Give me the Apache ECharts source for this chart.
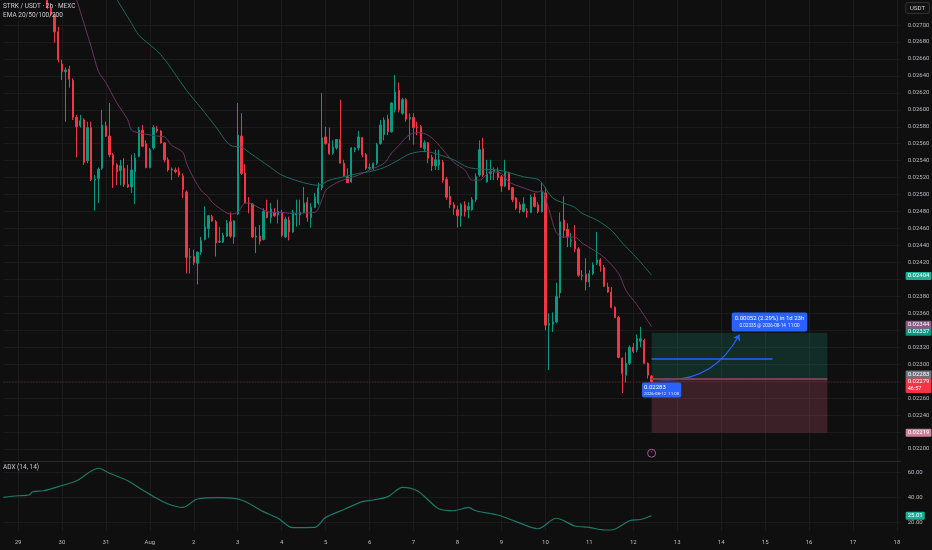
<!DOCTYPE html>
<html>
<head>
<meta charset="utf-8">
<script src="https://cdn.jsdelivr.net/npm/echarts@6/dist/echarts.min.js"></script>
<style>
html, body { margin: 0; padding: 0; background: #0f0f0f; }
#chart { width: 932px; height: 550px; }
</style>
</head>
<body>
<div id="chart"></div>
<script>
// day labels on the time axis, one every 12 candles (2h)
var dayTicks = ['29', '30', '31', 'Aug', '2', '3', '4', '5', '6', '7', '8', '9', '10', '11', '12', '13', '14', '15', '16', '17', '18'];
var slotCount = 246;
var firstCandle = 12;

// price grid lines / labels
var priceGrid = [0.0220, 0.0222, 0.0224, 0.0226, 0.0228, 0.0230, 0.0232, 0.0234, 0.0236, 0.0238, 0.0240, 0.0242, 0.0244,
    0.0246, 0.0248, 0.0250, 0.0252, 0.0254, 0.0256, 0.0258, 0.0260, 0.0262, 0.0264, 0.0266, 0.0268, 0.0270];
var priceLabels = [0.0220, 0.0224, 0.0226, 0.0230, 0.0232, 0.0236, 0.0238, 0.0242, 0.0244,
    0.0246, 0.0248, 0.0250, 0.0252, 0.0254, 0.0256, 0.0258, 0.0260, 0.0262, 0.0264, 0.0266, 0.0268, 0.0270];
var adxTicks = [20, 40, 60];

// candles: open, close, low, high
var candles = [
    [0.02733,0.02721,0.02719,0.02739],[0.02721,0.02712,0.02711,0.02724],[0.02712,0.02692,0.02679,0.02713],
    [0.02692,0.02659,0.02656,0.02698],[0.02654,0.02645,0.02635,0.02659],[0.02645,0.02647,0.02586,0.02650],
    [0.02648,0.02636,0.02626,0.02652],[0.02635,0.02591,0.02588,0.02637],[0.02591,0.02580,0.02544,0.02594],
    [0.02581,0.02587,0.02579,0.02594],[0.02588,0.02538,0.02535,0.02590],[0.02540,0.02579,0.02537,0.02586],
    [0.02579,0.02518,0.02516,0.02586],[0.02517,0.02518,0.02481,0.02523],[0.02519,0.02530,0.02490,0.02532],
    [0.02531,0.02582,0.02529,0.02600],[0.02581,0.02569,0.02568,0.02586],[0.02569,0.02547,0.02544,0.02608],
    [0.02547,0.02535,0.02508,0.02549],[0.02535,0.02527,0.02511,0.02537],[0.02528,0.02534,0.02511,0.02541],
    [0.02531,0.02512,0.02509,0.02543],[0.02512,0.02509,0.02508,0.02535],[0.02509,0.02529,0.02502,0.02547],
    [0.02527,0.02543,0.02489,0.02549],[0.02545,0.02576,0.02544,0.02580],[0.02576,0.02557,0.02556,0.02582],
    [0.02560,0.02532,0.02531,0.02564],[0.02532,0.02553,0.02531,0.02555],[0.02555,0.02579,0.02553,0.02582],
    [0.02577,0.02575,0.02573,0.02581],[0.02575,0.02561,0.02560,0.02576],[0.02561,0.02541,0.02538,0.02562],
    [0.02541,0.02529,0.02527,0.02544],[0.02529,0.02530,0.02517,0.02532],[0.02529,0.02527,0.02525,0.02532],
    [0.02527,0.02523,0.02521,0.02532],[0.02522,0.02506,0.02496,0.02525],[0.02503,0.02426,0.02407,0.02505],
    [0.02426,0.02427,0.02407,0.02437],[0.02427,0.02420,0.02417,0.02435],[0.02419,0.02432,0.02394,0.02433],
    [0.02432,0.02446,0.02429,0.02450],[0.02447,0.02462,0.02446,0.02486],[0.02460,0.02475,0.02449,0.02476],
    [0.02474,0.02469,0.02468,0.02476],[0.02468,0.02443,0.02427,0.02470],[0.02444,0.02445,0.02443,0.02462],
    [0.02444,0.02452,0.02443,0.02455],[0.02451,0.02466,0.02450,0.02470],[0.02468,0.02451,0.02449,0.02479],
    [0.02450,0.02469,0.02442,0.02470],[0.02477,0.02570,0.02476,0.02608],[0.02569,0.02525,0.02523,0.02596],
    [0.02525,0.02490,0.02490,0.02536],[0.02490,0.02489,0.02478,0.02497],[0.02489,0.02450,0.02449,0.02490],
    [0.02450,0.02451,0.02431,0.02462],[0.02451,0.02445,0.02441,0.02464],[0.02447,0.02480,0.02446,0.02484],
    [0.02480,0.02473,0.02472,0.02494],[0.02473,0.02483,0.02466,0.02490],[0.02479,0.02475,0.02474,0.02484],
    [0.02476,0.02480,0.02466,0.02494],[0.02479,0.02452,0.02450,0.02482],[0.02450,0.02471,0.02449,0.02474],
    [0.02470,0.02456,0.02446,0.02474],[0.02456,0.02479,0.02455,0.02482],[0.02476,0.02478,0.02462,0.02494],
    [0.02476,0.02479,0.02464,0.02494],[0.02479,0.02490,0.02478,0.02509],[0.02491,0.02473,0.02468,0.02497],
    [0.02473,0.02485,0.02461,0.02490],[0.02485,0.02497,0.02484,0.02502],[0.02490,0.02508,0.02488,0.02514],
    [0.02508,0.02567,0.02505,0.02620],[0.02568,0.02560,0.02559,0.02580],[0.02560,0.02548,0.02547,0.02579],
    [0.02549,0.02556,0.02547,0.02564],[0.02555,0.02565,0.02553,0.02565],[0.02565,0.02537,0.02537,0.02612],
    [0.02537,0.02522,0.02521,0.02541],[0.02521,0.02514,0.02514,0.02531],[0.02515,0.02555,0.02514,0.02556],
    [0.02553,0.02555,0.02550,0.02556],[0.02555,0.02568,0.02552,0.02575],[0.02567,0.02547,0.02544,0.02568],
    [0.02547,0.02531,0.02529,0.02549],[0.02531,0.02532,0.02529,0.02537],[0.02531,0.02537,0.02529,0.02538],
    [0.02537,0.02559,0.02535,0.02561],[0.02560,0.02582,0.02559,0.02588],[0.02571,0.02588,0.02564,0.02591],
    [0.02589,0.02574,0.02570,0.02594],[0.02574,0.02608,0.02573,0.02609],[0.02600,0.02621,0.02597,0.02641],
    [0.02623,0.02600,0.02597,0.02632],[0.02596,0.02612,0.02594,0.02614],[0.02612,0.02589,0.02586,0.02614],
    [0.02589,0.02591,0.02564,0.02596],[0.02591,0.02579,0.02559,0.02596],[0.02580,0.02579,0.02570,0.02586],
    [0.02580,0.02556,0.02555,0.02582],[0.02554,0.02561,0.02550,0.02564],[0.02561,0.02543,0.02537,0.02562],
    [0.02544,0.02534,0.02528,0.02547],[0.02534,0.02541,0.02529,0.02553],[0.02535,0.02541,0.02529,0.02553],
    [0.02538,0.02517,0.02514,0.02541],[0.02518,0.02497,0.02494,0.02521],[0.02498,0.02488,0.02484,0.02510],
    [0.02488,0.02484,0.02476,0.02491],[0.02482,0.02475,0.02461,0.02487],[0.02475,0.02488,0.02462,0.02490],
    [0.02488,0.02480,0.02474,0.02492],[0.02482,0.02486,0.02472,0.02491],[0.02482,0.02494,0.02481,0.02497],
    [0.02494,0.02521,0.02491,0.02525],[0.02523,0.02553,0.02521,0.02564],[0.02554,0.02523,0.02521,0.02567],
    [0.02515,0.02524,0.02514,0.02541],[0.02525,0.02527,0.02517,0.02541],[0.02527,0.02529,0.02517,0.02532],
    [0.02527,0.02520,0.02517,0.02532],[0.02521,0.02510,0.02503,0.02523],[0.02510,0.02527,0.02509,0.02541],
    [0.02525,0.02506,0.02505,0.02527],[0.02508,0.02494,0.02491,0.02509],[0.02496,0.02484,0.02482,0.02497],
    [0.02488,0.02482,0.02478,0.02491],[0.02480,0.02489,0.02479,0.02497],[0.02480,0.02479,0.02473,0.02484],
    [0.02479,0.02497,0.02478,0.02500],[0.02497,0.02486,0.02485,0.02502],[0.02488,0.02480,0.02478,0.02491],
    [0.02480,0.02503,0.02479,0.02514],[0.02502,0.02346,0.02340,0.02509],[0.02346,0.02348,0.02293,0.02360],
    [0.02347,0.02350,0.02338,0.02361],[0.02350,0.02380,0.02348,0.02396],[0.02384,0.02468,0.02378,0.02479],
    [0.02470,0.02458,0.02449,0.02498],[0.02459,0.02450,0.02438,0.02466],[0.02445,0.02446,0.02438,0.02455],
    [0.02445,0.02436,0.02432,0.02464],[0.02436,0.02405,0.02403,0.02438],[0.02404,0.02405,0.02399,0.02411],
    [0.02406,0.02397,0.02387,0.02425],[0.02397,0.02407,0.02391,0.02411],[0.02407,0.02417,0.02405,0.02420],
    [0.02419,0.02423,0.02417,0.02456],[0.02423,0.02416,0.02409,0.02425],[0.02414,0.02392,0.02391,0.02417],
    [0.02391,0.02385,0.02384,0.02396],[0.02385,0.02367,0.02366,0.02391],[0.02367,0.02355,0.02354,0.02368],
    [0.02355,0.02308,0.02307,0.02357],[0.02307,0.02289,0.02266,0.02308],[0.02287,0.02301,0.02278,0.02314],
    [0.02301,0.02320,0.02299,0.02322],[0.02320,0.02315,0.02313,0.02325],[0.02317,0.02330,0.02314,0.02335],
    [0.02327,0.02330,0.02320,0.02344],[0.02328,0.02301,0.02300,0.02330],[0.02301,0.02287,0.02283,0.02302],
    [0.02286,0.02279,0.02263,0.02287]
];

// EMA 20 (purple) and EMA 50 (teal), read at candle index positions
var ema20Idx = [20, 22, 24, 26, 28, 31, 34, 35, 37, 42, 44, 46, 49, 50, 52, 54, 56, 57, 59, 62, 64, 66, 67, 70, 73, 76, 78, 85, 87, 88,
    91, 94, 97, 100, 104, 106, 108, 111, 114, 117, 120, 123, 126, 128, 130, 133, 136, 138, 142, 146, 147, 149, 151, 153, 156, 158,
    161, 164, 168, 170, 173, 177];
var ema20Val = [0.02730, 0.02702, 0.02674, 0.02645, 0.02632, 0.02608, 0.02588, 0.02576, 0.02573, 0.02569, 0.02568, 0.02558,
    0.02550, 0.02537, 0.02519, 0.02505, 0.02497, 0.02491, 0.02484, 0.02477, 0.02479, 0.02490, 0.02490, 0.02484, 0.02479,
    0.02479, 0.02478, 0.02479, 0.02494, 0.02505, 0.02514, 0.02519, 0.02523, 0.02529, 0.02537, 0.02549, 0.02558, 0.02571,
    0.02573, 0.02567, 0.02553, 0.02538, 0.02529, 0.02517, 0.02517, 0.02527, 0.02525, 0.02515, 0.02508, 0.02503, 0.02505,
    0.02482, 0.02455, 0.02450, 0.02450, 0.02443, 0.02435, 0.02426, 0.02407, 0.02387, 0.02370, 0.02344];
var ema50Idx = [31, 35, 37, 43, 50, 54, 58, 62, 65, 67, 70, 73, 76, 82, 86, 89, 93, 97, 100, 104, 108, 111, 115, 119, 123, 127,
    131, 135, 138, 142, 146, 147, 150, 153, 156, 158, 162, 166, 169, 173, 177];
var ema50Val = [0.02730, 0.02702, 0.02688, 0.02665, 0.02623, 0.02602, 0.02580, 0.02558, 0.02556, 0.02550, 0.02541, 0.02532,
    0.02523, 0.02514, 0.02511, 0.02517, 0.02521, 0.02525, 0.02527, 0.02532, 0.02541, 0.02548, 0.02551, 0.02547, 0.02541,
    0.02532, 0.02530, 0.02529, 0.02526, 0.02521, 0.02518, 0.02514, 0.02496, 0.02490, 0.02485, 0.02478, 0.02470, 0.02458,
    0.02443, 0.02425, 0.02405];

// ADX (14, 14)
var adxIdx = [0, 4, 7, 8, 11, 15, 20, 26, 29, 34, 38, 41, 45, 49, 53, 59, 65, 71, 75, 79, 85, 88, 93, 98, 101, 105, 109, 113,
    116, 119, 123, 127, 129, 135, 140, 146, 151, 156, 160, 164, 166, 171, 174, 177];
var adxVal = [39.7, 41.0, 41.6, 44.2, 45.0, 48.3, 53.0, 63.0, 59.0, 53.0, 45.6, 40.3, 34.4, 31.7, 38.4, 39.5, 37.6, 28.3, 23.0,
    15.5, 15.7, 23.7, 30.0, 36.3, 37.6, 40.3, 47.7, 45.0, 37.6, 30.4, 29.0, 31.7, 29.0, 25.6, 20.3, 14.6, 23.0, 16.8, 15.7, 13.6,
    13.6, 21.0, 22.0, 25.0];

// long position tool
var entryIdx = 177, endIdx = 225, forecastIdx = 201, lineEndIdx = 210;
var entryPrice = 0.02283, targetPrice = 0.02337, stopPrice = 0.02219, forecastPrice = 0.02335, levelPrice = 0.02306;
var lastPrice = 0.02279, ema20Last = 0.02344, ema50Last = 0.02404, adxLast = 25.01, markerPrice = 0.02195;

var slots = [];
for (var i = 0; i < slotCount; i++) slots.push(String(i));
var candleData = [];
for (var i = 0; i < slotCount; i++) {
    var k = i - firstCandle;
    candleData.push(k >= 0 && k < candles.length ? candles[k] : '-');
}
function pairs(xs, ys) {
    return xs.map(function (x, j) { return [x, ys[j]]; });
}
function isDay(i) {
    return i >= 4 && (i - 4) % 12 === 0;
}
var txt = '#b8b9bf';
var gridColor = '#1b1b1b';
var font = 'Roboto';
var hidden = { color: 'rgba(0,0,0,0)', width: 0 };
var lastSlot = slotCount - 1;

// price tag on the right scale: a full-width marker line whose label sits past the end
function axisTag(value, bg, text, dy, lineStyle, rich) {
    return [
        {
            coord: [0, value],
            lineStyle: lineStyle || hidden,
            label: {
                show: true, position: 'end', distance: 5, offset: [0, dy || 0],
                formatter: text, backgroundColor: bg, color: '#ffffff',
                fontSize: 6, fontFamily: font, padding: [1, 2], borderRadius: 1, rich: rich
            }
        },
        { coord: [lastSlot, value] }
    ];
}

var myChart = echarts.init(document.getElementById('chart'));

var option = {
    backgroundColor: '#0f0f0f',
    animation: false,
    grid: [
        { left: 3.35, right: 31.35, top: 0, height: 461, containLabel: false, outerBoundsMode: 'none' },
        { left: 3.35, right: 31.35, top: 461, height: 70, containLabel: false, outerBoundsMode: 'none' }
    ],
    xAxis: [
        {
            type: 'category', gridIndex: 0, data: slots, boundaryGap: false,
            axisLine: { show: true, lineStyle: { color: '#2a2a2a' } },
            axisTick: { show: false }, axisLabel: { show: false },
            splitLine: { show: true, interval: isDay, lineStyle: { color: gridColor } }
        },
        {
            type: 'category', gridIndex: 1, data: slots, boundaryGap: false,
            axisLine: { show: false }, axisTick: { show: false },
            axisLabel: {
                show: true, interval: isDay, margin: 8, color: txt, fontSize: 6, fontFamily: font,
                formatter: function (v, i) { return dayTicks[(i - 4) / 12]; }
            },
            splitLine: { show: true, interval: isDay, lineStyle: { color: gridColor } }
        }
    ],
    yAxis: [
        {
            type: 'value', gridIndex: 0, position: 'right', min: 0.021858, max: 0.027295,
            axisLine: { show: false },
            axisTick: { show: false, customValues: priceGrid },
            splitLine: { show: true, lineStyle: { color: gridColor } },
            axisLabel: {
                customValues: priceLabels, margin: 7, color: txt, fontSize: 6, fontFamily: font,
                formatter: function (v) { return v.toFixed(5); }
            }
        },
        {
            type: 'value', gridIndex: 1, position: 'right', min: 12.8, max: 68.8,
            axisLine: { show: false },
            axisTick: { show: false, customValues: adxTicks },
            splitLine: { show: true, lineStyle: { color: gridColor } },
            axisLabel: {
                customValues: adxTicks, margin: 7, color: txt, fontSize: 6, fontFamily: font,
                formatter: function (v) { return v.toFixed(2); }
            }
        }
    ],
    graphic: [
        { type: 'text', left: 3, top: 3, z: 100, style: { text: 'STRK / USDT · 2h · MEXC', fill: '#c9cbd1', fontSize: 6.5, fontFamily: font } },
        { type: 'text', left: 3, top: 12, z: 100, style: { text: 'EMA 20/50/100/200', fill: '#c9cbd1', fontSize: 6.5, fontFamily: font } },
        { type: 'text', left: 3, top: 464, z: 100, style: { text: 'ADX (14, 14)', fill: '#c9cbd1', fontSize: 6.5, fontFamily: font } },
        {
            type: 'text', right: 2, top: 2, z: 100,
            style: {
                text: 'USDT', fill: '#d1d4dc', fontSize: 6, fontFamily: font, padding: [2, 4],
                backgroundColor: '#131313', borderColor: '#303030', borderWidth: 1, borderRadius: 2
            }
        }
    ],
    series: [
        {
            name: 'STRK/USDT', type: 'candlestick', xAxisIndex: 0, yAxisIndex: 0, clip: false,
            data: candleData, barWidth: 1.8,
            itemStyle: { color: '#089981', color0: '#f23645', borderColor: '#089981', borderColor0: '#f23645', borderWidth: 1 },
            markArea: {
                silent: true,
                data: [
                    [{ coord: [entryIdx, entryPrice], itemStyle: { color: 'rgba(30,160,140,0.2)' } }, { coord: [endIdx, targetPrice] }],
                    [{ coord: [entryIdx, stopPrice], itemStyle: { color: 'rgba(190,80,110,0.26)' } }, { coord: [endIdx, entryPrice] }]
                ]
            },
            markLine: {
                silent: true, symbol: 'none',
                data: [
                    [{ coord: [entryIdx, entryPrice], lineStyle: { color: '#6e4553', width: 2, type: 'solid' }, label: { show: false } },
                        { coord: [endIdx, entryPrice] }],
                    axisTag(lastPrice, '#f23645', '{a|0.02279}\n{b|46:57}', 3,
                        { color: '#5e2229', width: 1, type: [1, 2] },
                        {
                            a: { color: '#ffffff', fontSize: 6, fontFamily: font, lineHeight: 7 },
                            b: { color: '#ffffff', fontSize: 5.5, fontFamily: font, lineHeight: 7 }
                        }),
                    axisTag(entryPrice, '#6f717c', '0.02283', -4),
                    axisTag(targetPrice, '#089981', '0.02337', -1),
                    axisTag(stopPrice, '#c9819a', '0.02219', 0),
                    axisTag(ema20Last, '#8a5a84', '0.02344', -2),
                    axisTag(ema50Last, '#22ab94', '0.02404', 0),
                    [{ coord: [entryIdx, levelPrice], lineStyle: { color: '#2962ff', width: 1.5, type: 'solid' }, label: { show: false } },
                        { coord: [lineEndIdx, levelPrice] }]
                ]
            },
            markPoint: {
                silent: true, symbol: 'circle', symbolSize: 0,
                data: [
                    {
                        coord: [forecastIdx, forecastPrice],
                        label: {
                            show: true, position: 'top', distance: 3, offset: [30, 0],
                            backgroundColor: '#2962ff', borderRadius: 2, padding: [2, 3],
                            formatter: '{a|0.00052 (2.29%) in 1d 23h}\n{b|0.02335 @ 2026-08-14  11:00}',
                            rich: {
                                a: { color: '#ffffff', fontSize: 6, fontFamily: font, lineHeight: 8 },
                                b: { color: '#e8ecff', fontSize: 4.6, fontFamily: font, lineHeight: 7 }
                            }
                        }
                    },
                    {
                        coord: [entryIdx, entryPrice],
                        label: {
                            show: true, position: 'bottom', distance: 4, offset: [10, 0],
                            backgroundColor: '#2962ff', borderRadius: 2, padding: [1, 2],
                            formatter: '{a|0.02283}\n{b|2026-08-12  11:00}',
                            rich: {
                                a: { color: '#ffffff', fontSize: 6, fontFamily: font, lineHeight: 7, align: 'left' },
                                b: { color: '#e8ecff', fontSize: 4.4, fontFamily: font, lineHeight: 6, align: 'left' }
                            }
                        }
                    },
                    {
                        coord: [entryIdx, markerPrice], symbol: 'circle', symbolSize: 8,
                        itemStyle: { color: '#0f0f0f', borderColor: '#a15a98', borderWidth: 1 },
                        label: { show: true, position: 'inside', formatter: '⚡', color: '#f23645', fontSize: 5, fontFamily: 'DejaVu Sans' }
                    }
                ]
            }
        },
        {
            name: 'Forecast', type: 'lines', coordinateSystem: 'cartesian2d', xAxisIndex: 0, yAxisIndex: 0,
            symbol: ['none', 'arrow'], symbolSize: 6, silent: true,
            lineStyle: { color: '#2962ff', width: 1.2, opacity: 1, curveness: -0.35 },
            data: [{ coords: [[entryIdx, entryPrice], [forecastIdx, forecastPrice]] }]
        },
        {
            name: 'EMA 20', type: 'line', xAxisIndex: 0, yAxisIndex: 0, clip: false,
            data: pairs(ema20Idx, ema20Val), smooth: 0.3, symbol: 'none',
            lineStyle: { color: '#6d3467', width: 1 }
        },
        {
            name: 'EMA 50', type: 'line', xAxisIndex: 0, yAxisIndex: 0, clip: false,
            data: pairs(ema50Idx, ema50Val), smooth: 0.3, symbol: 'none',
            lineStyle: { color: '#1c6b61', width: 1 }
        },
        {
            name: 'ADX', type: 'line', xAxisIndex: 1, yAxisIndex: 1, clip: false,
            data: pairs(adxIdx, adxVal), smooth: 0.3, symbol: 'none',
            lineStyle: { color: '#1e7a68', width: 1.2 },
            markLine: { silent: true, symbol: 'none', data: [axisTag(adxLast, '#22ab94', '25.01', 0)] }
        }
    ]
};

myChart.setOption(option);
</script>
</body>
</html>
